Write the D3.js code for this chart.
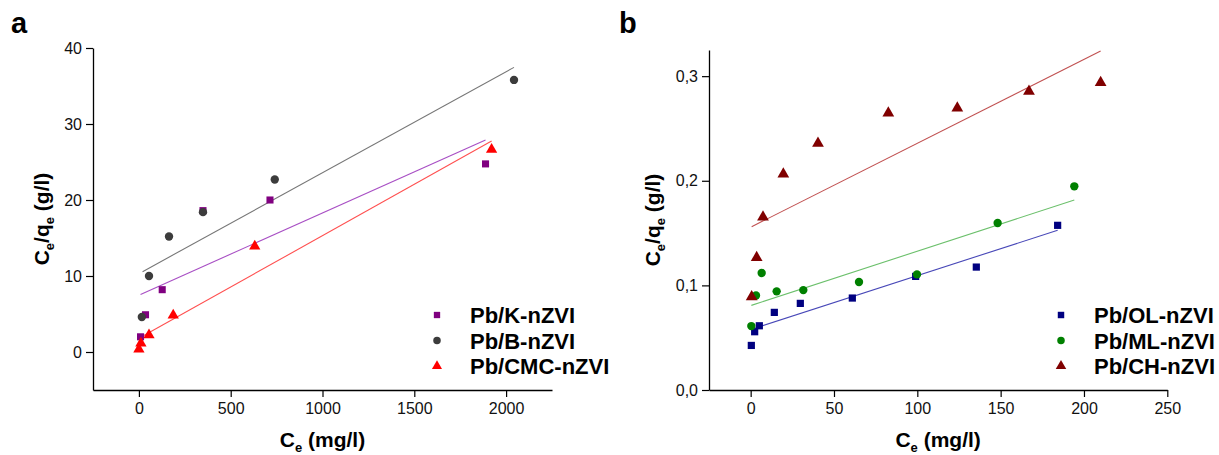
<!DOCTYPE html>
<meta charset="utf-8">
<style>
  body { margin: 0; background: #fff; }
  text { font-family: "Liberation Sans", Arial, sans-serif; }
</style>
<body>
<script src="https://cdn.jsdelivr.net/npm/d3@7"></script>
<script>

// ---- panel a data (Ce in mg/l, Ce/qe in g/l)
var kX   = [9, 36, 127, 349, 714, 1888];
var kY   = [2.0, 4.9, 8.2, 18.6, 20.0, 24.75];
var bX   = [16, 55, 164, 349, 740, 2043];
var bY   = [4.6, 10.0, 15.2, 18.4, 22.7, 35.8];
var cmcX = [0, 11, 55, 187, 631, 1921];
var cmcY = [0.35, 1.15, 2.25, 4.85, 13.9, 26.65];
// fitted lines: [x0, y0, x1, y1]
var kFit   = [9, 7.57, 1888, 27.9];
var bFit   = [20, 10.57, 2043, 37.45];
var cmcFit = [0, 1.8, 1921, 27.75];

// ---- panel b data
var olX = [0.4, 2.4, 5.2, 14.2, 29.8, 61, 99, 135.4, 184.2];
var olY = [0.0426, 0.0557, 0.0614, 0.0742, 0.0828, 0.0879, 0.1086, 0.1175, 0.1574];
var mlX = [0.4, 3.2, 6.6, 15.6, 31.6, 65, 99.8, 148.2, 194.2];
var mlY = [0.0611, 0.0904, 0.1118, 0.0943, 0.0955, 0.1032, 0.1105, 0.1596, 0.1947];
var chX = [0.6, 3.6, 7.4, 19.6, 40.4, 82.6, 124, 167, 210];
var chY = [0.089, 0.1265, 0.1653, 0.2064, 0.2358, 0.2647, 0.2695, 0.2855, 0.2938];
var olFit = [0.4, 0.058, 184.2, 0.1527];
var mlFit = [0.4, 0.0809, 194.2, 0.1816];
var chFit = [0.6, 0.1561, 210, 0.324];

// ticks
var aXMajor = [0, 500, 1000, 1500, 2000];
var aXMinor = [-250, 250, 750, 1250, 1750, 2250];
var aYMajor = [0, 10, 20, 30, 40];
var aYMinor = [-5, 5, 15, 25, 35];
var bXMajor = [0, 50, 100, 150, 200, 250];
var bXMinor = [-25, 25, 75, 125, 175, 225];
var bYMajor = [0, 0.1, 0.2, 0.3];
var bYMinor = [0.05, 0.15, 0.25];

var namesA = ["Pb/K-nZVI", "Pb/B-nZVI", "Pb/CMC-nZVI"];
var namesB = ["Pb/OL-nZVI", "Pb/ML-nZVI", "Pb/CH-nZVI"];

var svg = d3.select("body").append("svg")
    .attr("width", 1219)
    .attr("height", 455);

function zip(xs, ys) { return xs.map(function(v, i) { return [v, ys[i]]; }); }

function drawPanel(p) {
  var x = d3.scaleLinear().domain(p.xDomain).range(p.xRange);
  var y = d3.scaleLinear().domain(p.yDomain).range(p.yRange);
  var g = svg.append("g");

  // x axis
  var xa = g.append("g").attr("transform", "translate(0," + p.yRange[0] + ")");
  xa.call(d3.axisBottom(x).tickValues(p.xMinor).tickSize(4).tickFormat(""));
  xa.call(d3.axisBottom(x).tickValues(p.xMajor).tickSize(7).tickSizeOuter(0).tickPadding(6)
      .tickFormat(d3.format("d")));
  // y axis
  var ya = g.append("g").attr("transform", "translate(" + p.xRange[0] + ",0)");
  ya.call(d3.axisLeft(y).tickValues(p.yMinor).tickSize(4).tickFormat(""));
  ya.call(d3.axisLeft(y).tickValues(p.yMajor).tickSize(7).tickSizeOuter(0).tickPadding(4)
      .tickFormat(p.yFormat));
  g.selectAll(".domain").attr("stroke", "#000").attr("stroke-width", 1.3);
  g.selectAll(".tick line").attr("stroke", "#000").attr("stroke-width", 1.2);
  g.selectAll(".tick text").style("font-size", "16px").attr("fill", "#111");

  // fitted lines
  p.series.forEach(function(s) {
    g.append("line")
      .attr("x1", x(s.fit[0])).attr("y1", y(s.fit[1]))
      .attr("x2", x(s.fit[2])).attr("y2", y(s.fit[3]))
      .attr("stroke", s.line).attr("stroke-width", 1.1);
  });

  // points
  p.series.forEach(function(s) {
    g.selectAll(null)
      .data(zip(s.xs, s.ys))
      .enter().append("path")
        .attr("d", d3.symbol().type(s.sym).size(s.size))
        .attr("transform", function(d) { return "translate(" + x(d[0]) + "," + y(d[1]) + ")"; })
        .attr("fill", s.color);
  });

  // legend
  p.series.forEach(function(s, i) {
    var ly = p.legendY + i * 25.5;
    g.append("path")
      .attr("d", d3.symbol().type(s.sym).size(s.size * 0.8))
      .attr("transform", "translate(" + p.legendX + "," + ly + ")")
      .attr("fill", s.color);
    g.append("text")
      .attr("x", p.legendX + 33).attr("y", ly + 8)
      .style("font-size", "22px").style("font-weight", "bold")
      .text(s.name);
  });

  // axis titles
  var xt = g.append("text")
    .attr("x", (p.xRange[0] + p.xRange[1]) / 2).attr("y", 447)
    .attr("text-anchor", "middle")
    .style("font-size", "21px").style("font-weight", "bold");
  xt.append("tspan").text("C");
  xt.append("tspan").attr("dy", 5).style("font-size", "13px").text("e");
  xt.append("tspan").attr("dy", -5).text(" (mg/l)");

  var yt = g.append("text")
    .attr("text-anchor", "middle")
    .attr("transform", "translate(" + p.yTitleX + "," + ((p.yRange[0] + p.yRange[1]) / 2) + ")rotate(-90)")
    .style("font-size", "21px").style("font-weight", "bold");
  yt.append("tspan").text("C");
  yt.append("tspan").attr("dy", 5).style("font-size", "13px").text("e");
  yt.append("tspan").attr("dy", -5).text("/q");
  yt.append("tspan").attr("dy", 5).style("font-size", "13px").text("e");
  yt.append("tspan").attr("dy", -5).text(" (g/l)");

  // panel letter
  svg.append("text")
    .attr("x", p.letterX).attr("y", 33)
    .style("font-size", "29px").style("font-weight", "bold")
    .text(p.letter);
}

drawPanel({
  letter: "a", letterX: 11,
  xDomain: [-250, 2250], xRange: [93, 552],
  yDomain: [-5, 40], yRange: [390, 48],
  xMajor: aXMajor, xMinor: aXMinor, yMajor: aYMajor, yMinor: aYMinor,
  yFormat: d3.format("d"),
  yTitleX: 49,
  legendX: 437, legendY: 315,
  series: [
    {name: namesA[0], xs: kX, ys: kY, fit: kFit, sym: d3.symbolSquare, size: 50, color: "#800080", line: "#a84fc4"},
    {name: namesA[1], xs: bX, ys: bY, fit: bFit, sym: d3.symbolCircle, size: 55, color: "#3c3c3c", line: "#777777"},
    {name: namesA[2], xs: cmcX, ys: cmcY, fit: cmcFit, sym: d3.symbolTriangle, size: 55, color: "#ff0000", line: "#ff5050"}
  ]
});

drawPanel({
  letter: "b", letterX: 619,
  xDomain: [-25, 250], xRange: [709, 1167.3],
  yDomain: [0, 0.325], yRange: [390, 50],
  xMajor: bXMajor, xMinor: bXMinor, yMajor: bYMajor, yMinor: bYMinor,
  yFormat: function(d) { return d3.format(".1f")(d).replace(".", ","); },
  yTitleX: 660,
  legendX: 1061, legendY: 315,
  series: [
    {name: namesB[0], xs: olX, ys: olY, fit: olFit, sym: d3.symbolSquare, size: 52, color: "#000080", line: "#4848b8"},
    {name: namesB[1], xs: mlX, ys: mlY, fit: mlFit, sym: d3.symbolCircle, size: 55, color: "#008000", line: "#6cc06c"},
    {name: namesB[2], xs: chX, ys: chY, fit: chFit, sym: d3.symbolTriangle, size: 60, color: "#800000", line: "#c05050"}
  ]
});

</script>
</body>
